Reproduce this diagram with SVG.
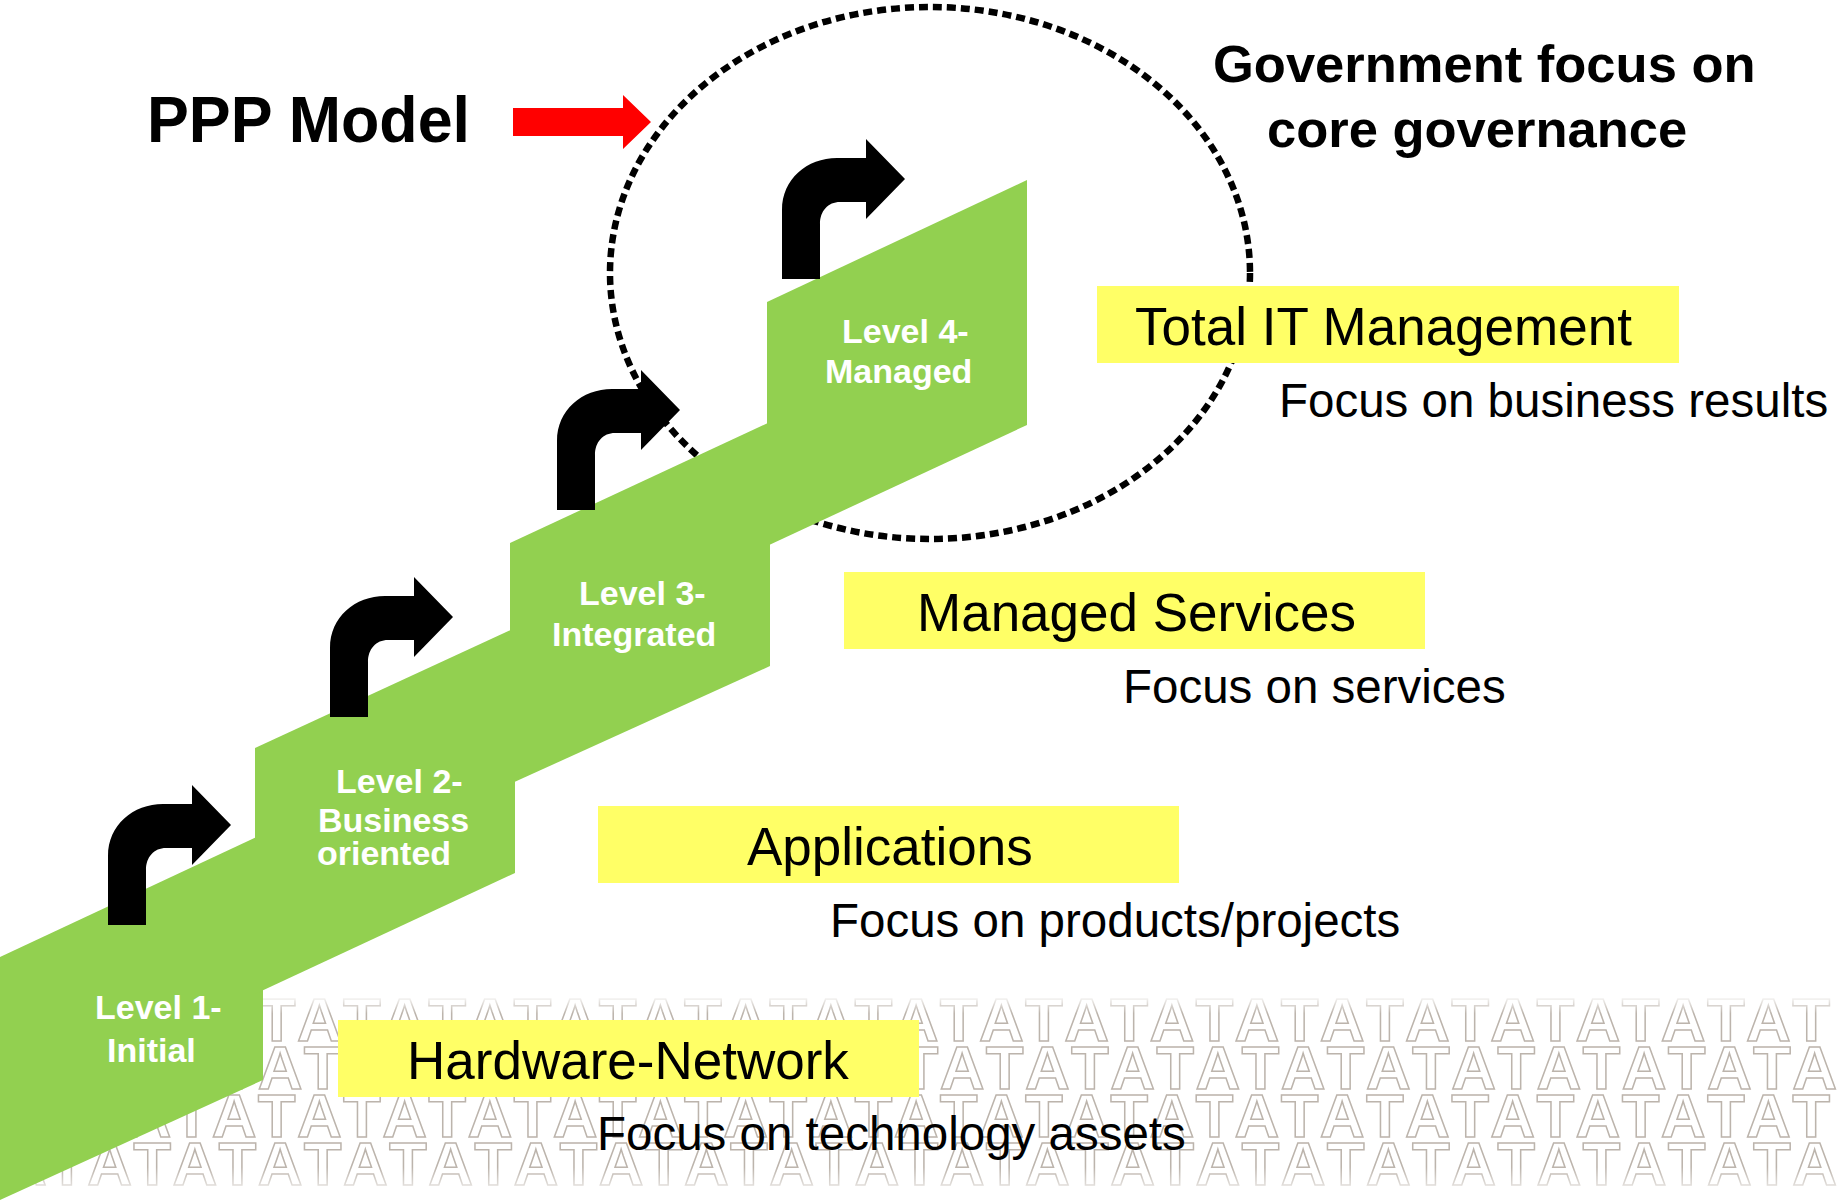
<svg xmlns="http://www.w3.org/2000/svg" width="1839" height="1200" viewBox="0 0 1839 1200">
<style>
.lvl{font-family:"Liberation Sans",Arial,sans-serif;font-weight:bold;font-size:34px;fill:#ffffff}
.box{fill:#ffff66}
.boxt{font-family:"Liberation Sans",Arial,sans-serif;font-size:53px;fill:#000000}
.sub{font-family:"Liberation Sans",Arial,sans-serif;font-size:47.5px;fill:#000000}
.head{font-family:"Liberation Sans",Arial,sans-serif;font-weight:bold;fill:#000000}
.step{fill:#92d050}
.bend{fill:#000000}
.wm{font-family:"Liberation Sans",Arial,sans-serif;font-weight:bold;font-size:62px;fill:none;stroke:#bcb4ac;stroke-width:1.5;letter-spacing:1.3px;font-kerning:none}
</style>
<defs>
<linearGradient id="wmGrad" gradientUnits="userSpaceOnUse" x1="0" y1="995" x2="0" y2="1200">
<stop offset="0" stop-color="#000"/>
<stop offset="0.09" stop-color="#fff"/>
<stop offset="0.84" stop-color="#fff"/>
<stop offset="1" stop-color="#000"/>
</linearGradient>
<mask id="wmFade" maskUnits="userSpaceOnUse" x="0" y="990" width="1839" height="210">
<rect x="0" y="990" width="1839" height="210" fill="url(#wmGrad)"/>
</mask>
<path id="bendArrow" d="M0,0 V-69 C0,-100 25,-121 55,-121 H84 V-140 L123,-100 L84,-60 V-77 H58 C46,-77 38,-68 38,-55 V0 Z"/>
</defs>
<rect x="0" y="0" width="1839" height="1200" fill="#ffffff"/>
<g id="watermark" mask="url(#wmFade)">
<text class="wm" x="2" y="1041">TATATATATATATATATATATATATATATATATATATATATAT</text>
<text class="wm" x="2" y="1089">ATATATATATATATATATATATATATATATATATATATATATA</text>
<text class="wm" x="2" y="1137">TATATATATATATATATATATATATATATATATATATATATAT</text>
<text class="wm" x="2" y="1185">ATATATATATATATATATATATATATATATATATATATATATA</text>
</g>
<g id="focus-ellipse">
<ellipse cx="930" cy="273" rx="320" ry="266" fill="none" stroke="#000000" stroke-width="6.5" stroke-dasharray="9 5"/>
</g>
<g id="level1">
<polygon class="step" points="0,957 263,834 263,1080 0,1200"/>
<text class="lvl" x="95" y="1019">Level 1-</text>
<text class="lvl" x="107" y="1062">Initial</text>
</g>
<g id="level2">
<polygon class="step" points="255,748 515,628 515,873 255,994"/>
<text class="lvl" x="336" y="793">Level 2-</text>
<text class="lvl" x="318" y="832">Business</text>
<text class="lvl" x="317" y="865">oriented</text>
</g>
<g id="level3">
<polygon class="step" points="510,543 770,422 770,666 510,784"/>
<text class="lvl" x="579" y="605">Level 3-</text>
<text class="lvl" x="552" y="646">Integrated</text>
</g>
<g id="level4">
<polygon class="step" points="767,302 1027,180 1027,425 767,546"/>
<text class="lvl" x="842" y="343">Level 4-</text>
<text class="lvl" x="825" y="383">Managed</text>
</g>
<g id="connectors">
<use href="#bendArrow" class="bend" transform="translate(108,925)"/>
<use href="#bendArrow" class="bend" transform="translate(330,717)"/>
<use href="#bendArrow" class="bend" transform="translate(557,510)"/>
<use href="#bendArrow" class="bend" transform="translate(782,279)"/>
<polygon fill="#ff0000" points="513,108 623,108 623,95 651,122 623,149 623,136 513,136"/>
</g>
<g id="ppp-model">
<text class="head" x="147" y="142" font-size="64" textLength="323" lengthAdjust="spacingAndGlyphs">PPP Model</text>
</g>
<g id="government-focus">
<text class="head" x="1213" y="82" font-size="52.5">Government focus on</text>
<text class="head" x="1267" y="147" font-size="52.5">core governance</text>
</g>
<g id="tier-total-it">
<rect class="box" x="1097" y="286" width="582" height="77"/>
<text class="boxt" x="1135" y="345">Total IT Management</text>
<text class="sub" x="1279" y="417">Focus on business results</text>
</g>
<g id="tier-managed-services">
<rect class="box" x="844" y="572" width="581" height="77"/>
<text class="boxt" x="917" y="631">Managed Services</text>
<text class="sub" x="1123" y="703">Focus on services</text>
</g>
<g id="tier-applications">
<rect class="box" x="598" y="806" width="581" height="77"/>
<text class="boxt" x="747" y="865">Applications</text>
<text class="sub" x="830" y="937">Focus on products/projects</text>
</g>
<g id="tier-hardware">
<rect class="box" x="338" y="1020" width="581" height="77"/>
<text class="boxt" x="407" y="1079">Hardware-Network</text>
<text class="sub" x="597" y="1150">Focus on technology assets</text>
</g>
</svg>
